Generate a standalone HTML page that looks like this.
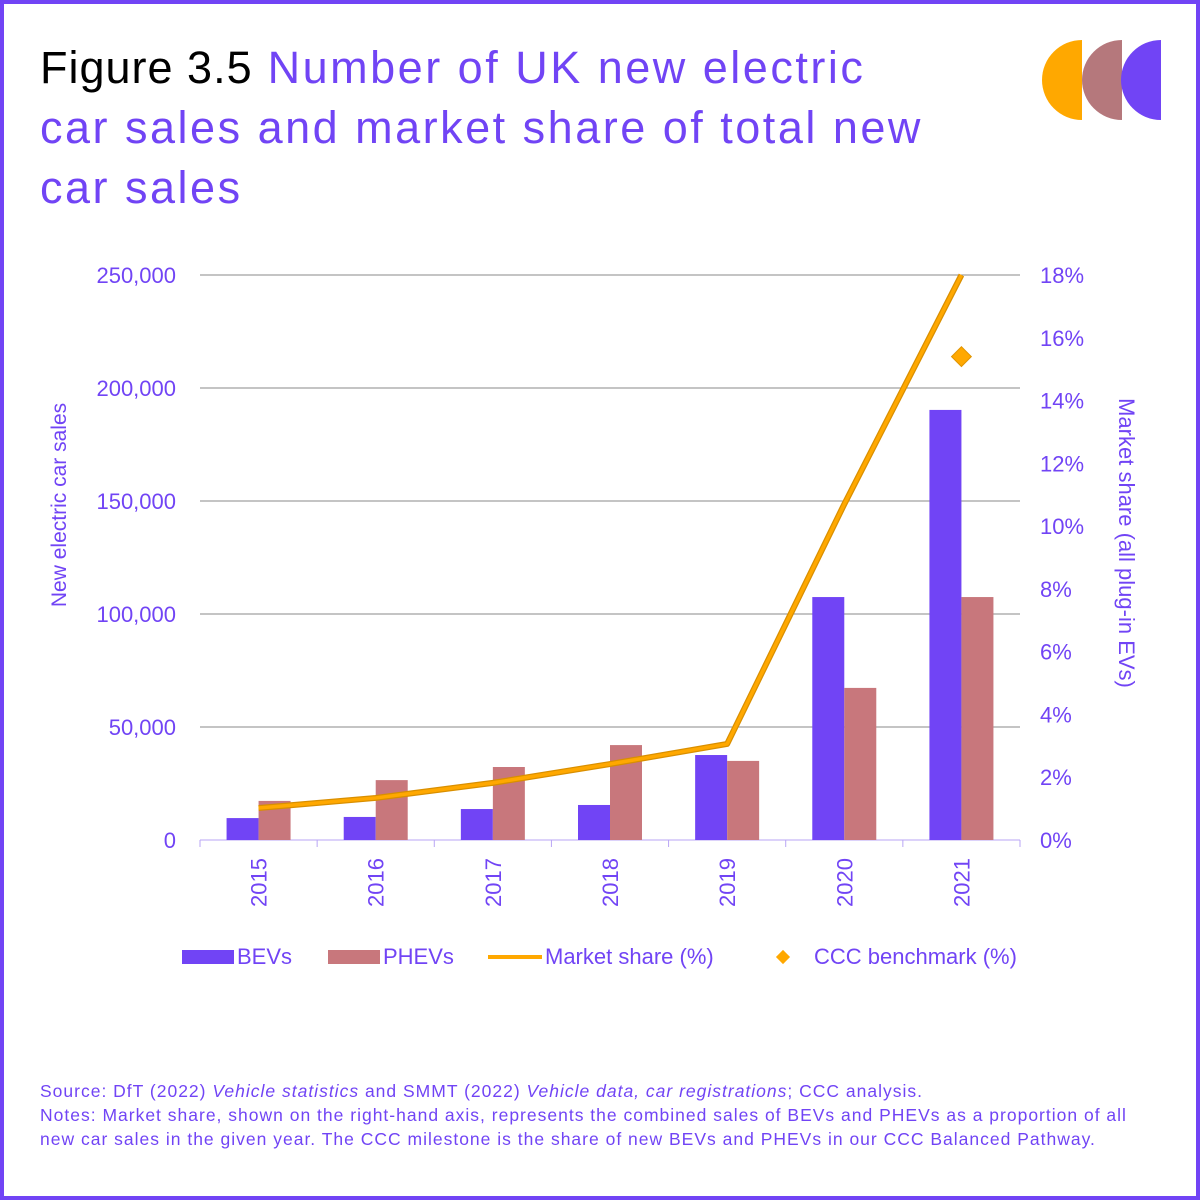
<!DOCTYPE html>
<html><head><meta charset="utf-8"><style>
body{margin:0;background:#fff;}
#wrap{position:relative;width:1200px;height:1200px;box-sizing:border-box;border:4px solid #7144f5;background:#fff;font-family:"Liberation Sans",sans-serif;overflow:hidden}
h1{position:absolute;left:36px;top:34px;margin:0;font-weight:normal;font-size:45px;line-height:60px;color:#7144f5;width:1000px;letter-spacing:2.5px;white-space:nowrap}
h1 span{color:#000;letter-spacing:1px}
.notes{position:absolute;left:36px;top:1075px;font-size:17.5px;line-height:24px;color:#7144f5;width:1150px;white-space:nowrap;letter-spacing:1px}
</style></head><body>
<div id="wrap">
<h1><span>Figure 3.5</span> Number of UK new electric<br>car sales and market share of total new<br>car sales</h1>
<svg width="1200" height="1200" style="position:absolute;left:-4px;top:-4px" id="svg">
<g>
<path d="M1082,40 A40,40 0 0 0 1082,120 Z" fill="#ffa800"/>
<path d="M1122,40 A40,40 0 0 0 1122,120 Z" fill="#b5787c"/>
<path d="M1161,40 A40,40 0 0 0 1161,120 Z" fill="#7144f5"/>
</g>
</svg>
<div class="notes">Source: DfT (2022) <i>Vehicle statistics</i> and SMMT (2022) <i>Vehicle data, car registrations</i>; CCC analysis.<br>Notes: Market share, shown on the right-hand axis, represents the combined sales of BEVs and PHEVs as a proportion of all<br>new car sales in the given year. The CCC milestone is the share of new BEVs and PHEVs in our CCC Balanced Pathway.</div>
</div>
<script>
const years=["2015","2016","2017","2018","2019","2020","2021"];
const bevs=[9700,10200,13700,15500,37600,107500,190300];
const phevs=[17300,26500,32300,42000,35000,67300,107500];
const share=[1.02,1.34,1.82,2.42,3.06,10.7,18.0];
const benchmark=[null,null,null,null,null,null,15.4];
const leftTicks=[0,50000,100000,150000,200000,250000];
const rightTicks=[0,2,4,6,8,10,12,14,16,18];
const NS="http://www.w3.org/2000/svg";
const svg=document.getElementById('svg');
const X0=200,X1=1020,Y0=840,Y1=275;
const band=(X1-X0)/years.length;
const yL=v=>Y0-(v/250000)*(Y0-Y1);
const yR=v=>Y0-(v/18)*(Y0-Y1);
const xc=i=>X0+band*(i+0.5);
function mk(t,a,p){const e=document.createElementNS(NS,t);for(const k in a)e.setAttribute(k,a[k]);(p||svg).appendChild(e);return e;}
const purple="#7144f5";
leftTicks.forEach(t=>{
 const g=mk('line',{x1:X0,x2:X1,y1:yL(t),y2:yL(t),stroke:t==0?"#b9a6f5":"#8a8a8a","stroke-width":1});
 
 
 const l=mk('text',{x:176,y:yL(t)+8,"text-anchor":"end","font-size":22,fill:purple});
 l.textContent=t.toLocaleString('en-US');
 
 
});
rightTicks.forEach(t=>{
 const l=mk('text',{x:1040,y:yR(t)+8,"font-size":22,fill:purple});
 l.textContent=t+"%";
 
 
});
for(let i=0;i<=years.length;i++){
 const tk=mk('line',{x1:X0+band*i,x2:X0+band*i,y1:Y0,y2:Y0+7,stroke:"#b9a6f5"});
 
 
}
const bw=32;
years.forEach((y,i)=>{
 const b=mk('rect',{x:xc(i)-bw,y:yL(bevs[i]),width:bw,height:Y0-yL(bevs[i]),fill:purple});
 
 
 const p=mk('rect',{x:xc(i),y:yL(phevs[i]),width:bw,height:Y0-yL(phevs[i]),fill:"#c8777c"});
 
 
 const t=mk('text',{x:0,y:0,"font-size":22,fill:purple,"text-anchor":"end",transform:`translate(${xc(i)+8},${Y0+18}) rotate(-90)`});
 t.textContent=y;
 
 
});
const pts=share.map((v,i)=>xc(i)+","+yR(v)).join(" ");
const ln0=mk('polyline',{points:pts,fill:"none",stroke:"#d98f00","stroke-width":6,"stroke-linejoin":"round"});


const ln=mk('polyline',{points:pts,fill:"none",stroke:"#ffa800","stroke-width":3.5,"stroke-linejoin":"round"});


benchmark.forEach((v,i)=>{if(v==null)return;
 const d=mk('rect',{x:-7,y:-7,width:14,height:14,fill:"#ffa800",stroke:"#e09400",transform:`translate(${xc(i)},${yR(v)}) rotate(45)`});
 
 
});
const yt=mk('text',{x:0,y:0,"font-size":21,fill:purple,"text-anchor":"middle",transform:"translate(66,505) rotate(-90)"});
yt.textContent="New electric car sales";


const yt2=mk('text',{x:0,y:0,"font-size":22,fill:purple,"text-anchor":"middle",transform:"translate(1119,543) rotate(90)"});
yt2.textContent="Market share (all plug-in EVs)";


const lg=mk('g',{});


const r1=mk('rect',{x:182,y:950,width:52,height:14,fill:purple},lg);


const r2=mk('rect',{x:328,y:950,width:52,height:14,fill:"#c8777c"},lg);


const r3=mk('line',{x1:488,x2:542,y1:957,y2:957,stroke:"#ffa800","stroke-width":4},lg);


const r4=mk('rect',{x:-5,y:-5,width:10,height:10,fill:"#ffa800",transform:"translate(783,957) rotate(45)"},lg);


[["BEVs",237],["PHEVs",383],["Market share (%)",545],["CCC benchmark (%)",814]].forEach(([s,x])=>{
 const t=mk('text',{x:x,y:964,"font-size":22,fill:purple},lg);
 t.textContent=s;
 
 
});
</script>
</body></html>
